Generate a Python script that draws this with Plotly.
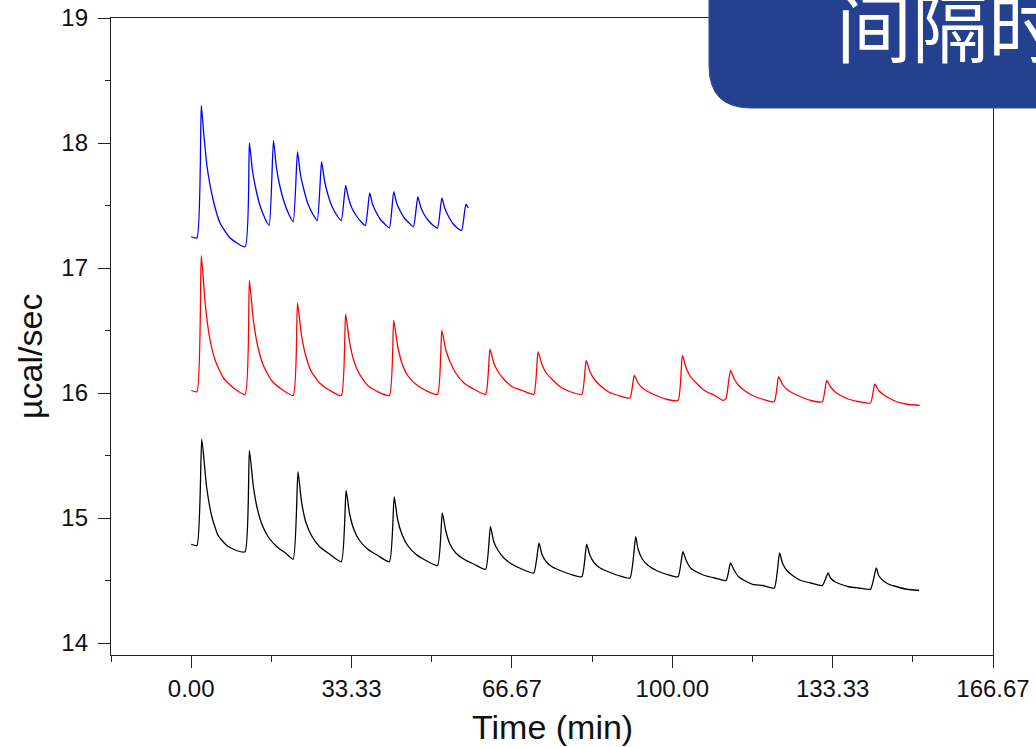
import plotly.graph_objects as go

# ---------------- data ----------------
blue_time = [0.0, 1.2, 2.1, 2.6, 3.3, 4.6, 6.0, 8.1, 11.2,
             12.1, 12.7, 13.4, 14.3, 15.3, 16.2,
             17.1, 17.7, 18.4, 19.3, 20.3, 21.2,
             22.1, 22.7, 23.4, 24.3, 25.3, 26.2,
             27.1, 27.7, 28.4, 29.3, 30.3, 31.2,
             32.1, 32.7, 33.4, 34.3, 35.3, 36.2,
             37.1, 37.7, 38.4, 39.3, 40.3, 41.2,
             42.1, 42.7, 43.4, 44.3, 45.3, 46.2,
             47.1, 47.7, 48.4, 49.3, 50.3, 51.2,
             52.1, 52.7, 53.4, 54.3, 55.3, 56.2,
             57.1, 57.6]
blue_ucal = [17.25, 17.24, 18.30, 18.08, 17.81, 17.54, 17.36, 17.24, 17.17,
             18.00, 17.79, 17.64, 17.50, 17.40, 17.34,
             18.02, 17.81, 17.66, 17.53, 17.43, 17.37,
             17.93, 17.75, 17.63, 17.51, 17.43, 17.38,
             17.85, 17.70, 17.59, 17.49, 17.42, 17.38,
             17.66, 17.56, 17.48, 17.42, 17.37, 17.34,
             17.60, 17.51, 17.45, 17.39, 17.35, 17.32,
             17.61, 17.52, 17.46, 17.40, 17.36, 17.33,
             17.57, 17.49, 17.43, 17.38, 17.34, 17.32,
             17.56, 17.48, 17.42, 17.36, 17.32, 17.30,
             17.51, 17.48]

red_time = [0.0, 1.2, 2.1, 2.9, 3.8, 5.0, 6.7, 8.8, 11.2,
            12.1, 12.9, 13.8, 15.0, 16.7, 18.8, 21.2,
            22.1, 22.9, 23.8, 25.0, 26.7, 28.8, 31.2,
            32.1, 32.9, 33.8, 35.0, 36.7, 38.8, 41.2,
            42.1, 42.9, 43.8, 45.0, 46.7, 48.8, 51.2,
            52.1, 52.9, 53.8, 55.0, 56.7, 58.8, 61.2,
            62.1, 62.9, 63.8, 65.0, 66.7, 68.8, 71.2,
            72.1, 72.9, 73.8, 75.0, 76.7, 78.8, 81.2,
            82.1, 82.9, 83.8, 85.0, 86.7, 88.8, 91.2,
            92.1, 92.9, 93.8, 95.0, 96.7, 98.8, 101.2,
            102.1, 102.9, 103.8, 105.0, 106.7, 108.8, 110.6, 111.2,
            112.1, 112.9, 113.8, 115.0, 116.7, 118.8, 121.2,
            122.1, 122.9, 123.8, 125.0, 126.7, 128.8, 131.2,
            132.1, 132.9, 133.8, 135.0, 136.7, 138.8, 141.2,
            142.1, 142.9, 143.8, 145.0, 146.7, 148.8, 151.4]
red_ucal = [16.02, 16.01, 17.10, 16.72, 16.45, 16.26, 16.12, 16.04, 15.99,
            16.90, 16.59, 16.38, 16.22, 16.10, 16.03, 15.98,
            16.72, 16.47, 16.30, 16.17, 16.08, 16.02, 15.98,
            16.63, 16.41, 16.26, 16.15, 16.06, 16.01, 15.98,
            16.58, 16.38, 16.24, 16.14, 16.07, 16.02, 15.99,
            16.50, 16.35, 16.25, 16.16, 16.08, 16.03, 15.99,
            16.35, 16.24, 16.17, 16.11, 16.05, 16.02, 15.99,
            16.33, 16.23, 16.16, 16.11, 16.05, 16.01, 15.99,
            16.26, 16.17, 16.11, 16.06, 16.01, 15.98, 15.96,
            16.14, 16.08, 16.04, 16.01, 15.98, 15.95, 15.94,
            16.30, 16.20, 16.13, 16.08, 16.02, 15.98, 15.94, 15.96,
            16.18, 16.11, 16.06, 16.02, 15.98, 15.95, 15.93,
            16.13, 16.07, 16.03, 16.00, 15.97, 15.94, 15.93,
            16.10, 16.05, 16.01, 15.98, 15.95, 15.93, 15.92,
            16.07, 16.02, 15.99, 15.96, 15.93, 15.91, 15.90]

black_time = [0.0, 1.2, 2.2, 3.2, 4.3, 5.6, 7.4, 9.4, 11.2,
              12.1, 12.9, 13.6, 14.6, 16.0, 17.8, 19.6, 21.2,
              22.2, 22.9, 23.8, 25.0, 26.7, 28.8, 31.2,
              32.2, 32.9, 33.8, 35.0, 36.7, 38.8, 41.2,
              42.2, 42.9, 43.8, 45.0, 46.7, 48.8, 51.2,
              52.2, 52.9, 53.8, 55.0, 56.7, 58.8, 61.2,
              62.2, 62.9, 63.8, 65.0, 66.7, 68.8, 71.2,
              72.3, 72.9, 73.8, 75.0, 76.7, 78.8, 81.2,
              82.2, 82.9, 83.8, 85.0, 86.7, 88.8, 91.2,
              92.4, 92.9, 93.8, 95.0, 96.7, 98.8, 101.2,
              102.2, 102.9, 103.8, 105.0, 106.7, 108.8, 111.2,
              112.1, 112.9, 113.8, 115.0, 116.7, 118.8, 121.2,
              122.3, 122.9, 123.8, 125.0, 126.7, 128.8, 131.2,
              132.4, 132.9, 133.8, 135.0, 136.7, 138.8, 141.2,
              142.4, 142.9, 143.8, 145.0, 146.7, 148.8, 151.3]
black_ucal = [14.79, 14.78, 15.63, 15.25, 15.01, 14.86, 14.78, 14.74, 14.73,
              15.54, 15.26, 15.10, 14.96, 14.85, 14.77, 14.72, 14.67,
              15.37, 15.14, 14.97, 14.86, 14.77, 14.71, 14.65,
              15.22, 15.04, 14.91, 14.82, 14.75, 14.70, 14.65,
              15.17, 14.99, 14.87, 14.78, 14.71, 14.66, 14.62,
              15.04, 14.90, 14.79, 14.72, 14.67, 14.63, 14.59,
              14.93, 14.81, 14.74, 14.68, 14.63, 14.59, 14.56,
              14.80, 14.71, 14.65, 14.61, 14.58, 14.55, 14.53,
              14.79, 14.70, 14.64, 14.60, 14.57, 14.54, 14.52,
              14.85, 14.75, 14.67, 14.62, 14.58, 14.55, 14.53,
              14.73, 14.66, 14.60, 14.57, 14.54, 14.52, 14.50,
              14.64, 14.58, 14.53, 14.50, 14.47, 14.46, 14.44,
              14.72, 14.64, 14.58, 14.54, 14.50, 14.48, 14.46,
              14.56, 14.52, 14.49, 14.47, 14.45, 14.44, 14.43,
              14.60, 14.54, 14.50, 14.47, 14.45, 14.43, 14.42]

x_tickvals = [0.0, 33.333, 66.667, 100.0, 133.333, 166.667]
x_ticktext = ["0.00", "33.33", "66.67", "100.00", "133.33", "166.67"]
y_tickvals = [14, 15, 16, 17, 18, 19]
banner_text = "间隔时"

# ---------------- figure ----------------
W, H = 1036, 747
L, R, T, B = 111, 993, 18, 655

def px_x(p):
    return (p - L) / (R - L)

def px_y(p):
    return (B - p) / (B - T)

fig = go.Figure()
for t, v, c in [(blue_time, blue_ucal, "#0000ff"),
                (red_time, red_ucal, "#ff0000"),
                (black_time, black_ucal, "#000000")]:
    fig.add_trace(go.Scatter(x=t, y=v, mode="lines",
                             line=dict(color=c, width=1.3, shape="spline", smoothing=0.5),
                             hoverinfo="skip", showlegend=False))

axis_col = "#222222"
tick_font = dict(family="Liberation Sans, Arial, sans-serif", size=24, color="#111111")

fig.update_layout(
    width=W, height=H,
    margin=dict(l=L, r=W - R, t=T, b=H - B, pad=0, autoexpand=False),
    paper_bgcolor="white", plot_bgcolor="white",
    showlegend=False,
    xaxis=dict(range=[-16.667, 166.667], showgrid=False, zeroline=False,
               automargin=False,
               showline=True, linecolor=axis_col, linewidth=1.3, mirror=True,
               ticks="outside", ticklen=12, tickwidth=1.2, tickcolor=axis_col,
               tickmode="array", tickvals=x_tickvals, ticktext=x_ticktext,
               tickfont=tick_font, ticklabelstandoff=0,
               minor=dict(tickmode="linear", tick0=-16.667, dtick=33.333,
                          ticks="outside", ticklen=6, tickwidth=1.2,
                          tickcolor=axis_col, showgrid=False)),
    yaxis=dict(range=[13.904, 19.0], showgrid=False, zeroline=False,
               automargin=False,
               showline=True, linecolor=axis_col, linewidth=1.3, mirror=True,
               ticks="outside", ticklen=12, tickwidth=1.2, tickcolor=axis_col,
               tickmode="array", tickvals=y_tickvals,
               ticktext=[str(v) for v in y_tickvals],
               tickfont=tick_font, ticklabelstandoff=5,
               minor=dict(tickmode="linear", tick0=13.5, dtick=0.5,
                          ticks="outside", ticklen=5, tickwidth=1.2,
                          tickcolor=axis_col, showgrid=False)),
)

# axis titles
fig.add_annotation(text="Time (min)", xref="paper", yref="paper",
                   x=0.5, y=px_y(727), xanchor="center", yanchor="middle",
                   showarrow=False,
                   font=dict(family="Liberation Sans, Arial, sans-serif", size=34, color="#111111"))
fig.add_annotation(text="µcal/sec", xref="paper", yref="paper",
                   x=px_x(30), y=px_y(357), xanchor="center", yanchor="middle",
                   textangle=-90, showarrow=False,
                   font=dict(family="Liberation Sans, Arial, sans-serif", size=34, color="#111111"))

# blue banner at the top right (video overlay)
x0, x1, xr = px_x(709), px_x(751), px_x(1050)
yb, yc, yt = px_y(108), px_y(66), px_y(-10)
fig.add_shape(type="path", xref="paper", yref="paper", layer="above",
              path=f"M {x0},{yt} L {x0},{yc} Q {x0},{yb} {x1},{yb} L {xr},{yb} L {xr},{yt} Z",
              fillcolor="#23418e", line=dict(color="#2d4c98", width=1))
fig.add_annotation(text=banner_text, xref="paper", yref="paper",
                   x=px_x(834), y=px_y(24), xanchor="left", yanchor="middle",
                   showarrow=False,
                   font=dict(family="Noto Sans CJK SC, sans-serif", size=76,
                             color="white"))

fig.write_html("out.html")
